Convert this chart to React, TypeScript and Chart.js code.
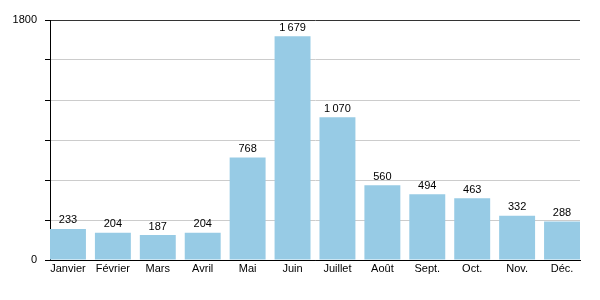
import React, { useEffect, useRef } from "react";
import { Chart, registerables } from "chart.js";

Chart.register(...registerables);

const months = ["Janvier", "Février", "Mars", "Avril", "Mai", "Juin", "Juillet", "Août", "Sept.", "Oct.", "Nov.", "Déc."];
const values = [233, 204, 187, 204, 768, 1679, 1070, 560, 494, 463, 332, 288];
const yLabels = [0, 1800];

const fmt = (v: number) => {
  const s = String(v);
  return s.length > 3 ? s.slice(0, s.length - 3) + "\u2009" + s.slice(s.length - 3) : s;
};

const valueLabels = {
  id: "valueLabels",
  afterDatasetsDraw(chart: any) {
    const ctx = chart.ctx;
    const meta = chart.getDatasetMeta(0);
    ctx.save();
    ctx.font = "11px 'Liberation Sans', Arial, sans-serif";
    ctx.fillStyle = "#000";
    ctx.textAlign = "center";
    ctx.textBaseline = "bottom";
    meta.data.forEach((bar: any, i: number) => {
      ctx.fillText(fmt(values[i]), bar.x, bar.y - 3);
    });
    ctx.restore();
  },
};

export default function App() {
  const ref = useRef<HTMLCanvasElement>(null);
  useEffect(() => {
    if (!ref.current) return;
    const chart = new Chart(ref.current, {
      type: "bar",
      data: {
        datasets: [
          {
            data: values.map((v, i) => ({ x: i, y: v })),
            backgroundColor: "#97cbe5",
            borderWidth: 0,
            barPercentage: 0.8,
            categoryPercentage: 1,
          },
        ],
      },
      plugins: [valueLabels],
      options: {
        animation: false,
        responsive: false,
        maintainAspectRatio: false,
        layout: { padding: { top: 20, right: 20, left: 0, bottom: 0 } },
        plugins: { legend: { display: false }, tooltip: { enabled: false } },
        scales: {
          x: {
            type: "linear",
            offset: false,
            min: -0.4,
            max: 11.4,
            afterBuildTicks: (scale: any) => {
              scale.ticks = months.map((_, i) => ({ value: i }));
            },
            afterFit: (scale: any) => {
              scale.height = 40;
            },
            grid: { display: false, drawTicks: false, offset: false },
            border: { display: true, color: "#000", width: 1 },
            ticks: {
              autoSkip: false,
              maxRotation: 0,
              padding: 2,
              color: "#000",
              font: { family: "'Liberation Sans', Arial, sans-serif", size: 11 },
              callback: (v: any) => months[v as number] ?? "",
            },
          },
          y: {
            min: 0,
            max: 1800,
            afterBuildTicks: (scale: any) => {
              scale.ticks = [0, 300, 600, 900, 1200, 1500, 1800].map((v) => ({ value: v }));
            },
            afterFit: (scale: any) => {
              scale.width = 50;
            },
            grid: {
              color: (c: any) => (c.tick && c.tick.value === 1800 ? "#333" : c.tick && c.tick.value === 0 ? "#000" : "#ccc"),
              tickColor: "#000",
              tickLength: 5,
              drawTicks: true,
            },
            border: { display: true, color: "#000", width: 1 },
            ticks: {
              padding: 8,
              color: "#000",
              font: { family: "'Liberation Sans', Arial, sans-serif", size: 11 },
              callback: (v: any) => (yLabels.includes(v as number) ? String(v) : ""),
            },
          },
        },
      },
    });
    return () => chart.destroy();
  }, []);
  return (
    <div style={{ position: "fixed", left: 0, top: 0, width: 600, height: 300, background: "#fff" }}>
      <canvas ref={ref} width={600} height={300} style={{ width: 600, height: 300 }} />
    </div>
  );
}
